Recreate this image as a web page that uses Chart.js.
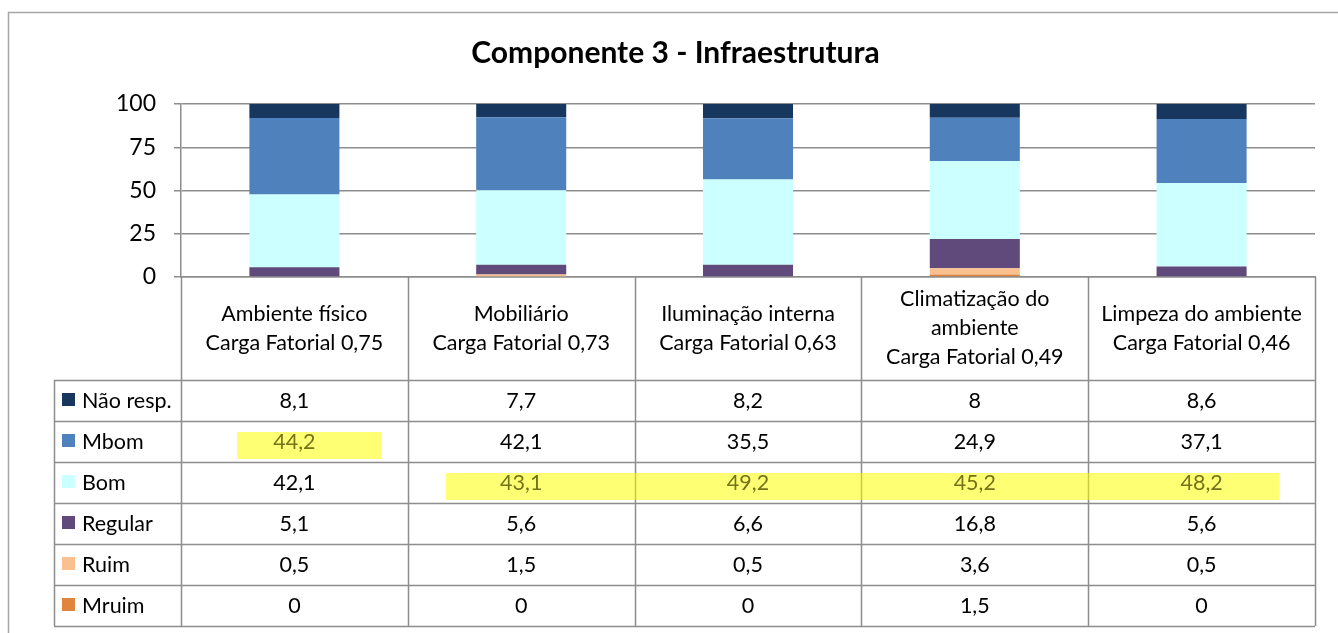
<!DOCTYPE html>
<html>
<head>
<meta charset="utf-8">
<title>Componente 3 - Infraestrutura</title>
<script src="https://cdn.jsdelivr.net/npm/chart.js@4.4.1/dist/chart.umd.min.js"></script>
<style>
  body { margin: 0; background: #fff; }
  #wrap { width: 1338px; height: 633px; }
</style>
</head>
<body>
<div id="wrap"><canvas id="chart" width="1338" height="633"></canvas></div>
<script>
// dados
const categories = [
    ['Ambiente físico', 'Carga Fatorial 0,75'],
    ['Mobiliário', 'Carga Fatorial 0,73'],
    ['Iluminação interna', 'Carga Fatorial 0,63'],
    ['Climatização do', 'ambiente', 'Carga Fatorial 0,49'],
    ['Limpeza do ambiente', 'Carga Fatorial 0,46']
];
const mruim   = [0, 0, 0, 1.5, 0];
const ruim    = [0.5, 1.5, 0.5, 3.6, 0.5];
const regular = [5.1, 5.6, 6.6, 16.8, 5.6];
const bom     = [42.1, 43.1, 49.2, 45.2, 48.2];
const mbom    = [44.2, 42.1, 35.5, 24.9, 37.1];
const naoResp = [8.1, 7.7, 8.2, 8, 8.6];
const yTicks  = [0, 25, 50, 75, 100];

const FONT = 'Lato, "Open Sans", sans-serif';
const LINE = '#8d8d8d';

// celulas marcadas em amarelo na tabela
const highlights = [
    { row: 'Mbom', first: 0, last: 0, left: 56, right: 200 },
    { row: 'Bom', first: 1, last: 4, left: 38, right: 191 }
];

function fmt(v) {
    return String(v).replace('.', ',');
}

// tabela de dados abaixo do grafico (como no Excel)
const dataTable = {
    id: 'dataTable',
    beforeDraw(chart) {
        const ctx = chart.ctx;
        ctx.save();
        ctx.strokeStyle = '#a6a6a6';
        ctx.lineWidth = 1.5;
        ctx.strokeRect(8.5, 12.5, 1400, 700);
        ctx.restore();
    },
    afterDraw(chart) {
        const ctx = chart.ctx;
        const x = chart.scales.x;
        const area = chart.chartArea;
        const n = categories.length;
        const colW = (area.right - area.left) / n;
        const headerBottom = 380;
        const rowH = 41;
        const legendLeft = 54;
        const rows = chart.data.datasets.slice().reverse();
        const tableBottom = headerBottom + rows.length * rowH;
        const colLeft = i => x.getPixelForValue(i) - colW / 2;

        ctx.save();

        // linhas
        ctx.strokeStyle = LINE;
        ctx.lineWidth = 1.5;
        ctx.beginPath();
        for (let i = 0; i <= n; i++) {
            const cx = Math.round(area.left + i * colW) + 0.5;
            ctx.moveTo(cx, area.bottom);
            ctx.lineTo(cx, tableBottom);
        }
        ctx.moveTo(legendLeft + 0.5, headerBottom);
        ctx.lineTo(legendLeft + 0.5, tableBottom);
        for (let r = 0; r <= rows.length; r++) {
            const ry = headerBottom + r * rowH + 0.5;
            ctx.moveTo(legendLeft, ry);
            ctx.lineTo(area.right, ry);
        }
        ctx.stroke();

        // destaques
        ctx.fillStyle = 'rgba(255, 255, 0, 0.55)';
        highlights.forEach(h => {
            const r = rows.findIndex(d => d.label === h.row);
            const top = headerBottom + r * rowH + 11;
            const x0 = colLeft(h.first) + h.left;
            const x1 = colLeft(h.last) + h.right;
            ctx.fillRect(x0, top, x1 - x0, 27);
        });

        // cabecalho das categorias
        ctx.fillStyle = '#000';
        ctx.textAlign = 'center';
        ctx.textBaseline = 'middle';
        ctx.font = '21.5px ' + FONT;
        const midHeader = (area.bottom + headerBottom) / 2;
        categories.forEach((lines, i) => {
            const cx = x.getPixelForValue(i);
            const lh = 29;
            const y0 = midHeader - (lines.length - 1) * lh / 2;
            lines.forEach((t, k) => ctx.fillText(t, cx, y0 + k * lh));
        });

        // linhas de valores + legenda
        rows.forEach((ds, r) => {
            const top = headerBottom + r * rowH;
            const cy = top + rowH / 2 + 1;
            ctx.fillStyle = ds.backgroundColor;
            ctx.fillRect(62, top + 13, 13, 13);
            ctx.fillStyle = '#000';
            ctx.textAlign = 'left';
            ctx.fillText(ds.label, 82, cy);
            ctx.textAlign = 'center';
            ds.data.forEach((v, i) => {
                const marked = highlights.some(h => h.row === ds.label && i >= h.first && i <= h.last);
                ctx.fillStyle = marked ? '#74741a' : '#000';
                ctx.fillText(fmt(v), x.getPixelForValue(i), cy);
            });
        });

        ctx.restore();
    }
};

const ctx = document.getElementById('chart').getContext('2d');
const chart = new Chart(ctx, {
    type: 'bar',
    data: {
        labels: categories,
        datasets: [
            { label: 'Mruim', data: mruim, backgroundColor: '#df853e' },
            { label: 'Ruim', data: ruim, backgroundColor: '#fac090' },
            { label: 'Regular', data: regular, backgroundColor: '#604a7b' },
            { label: 'Bom', data: bom, backgroundColor: '#ccffff' },
            { label: 'Mbom', data: mbom, backgroundColor: '#4f81bd' },
            { label: 'Não resp.', data: naoResp, backgroundColor: '#17375e' }
        ]
    },
    options: {
        responsive: false,
        animation: false,
        datasets: {
            bar: { categoryPercentage: 1, barPercentage: 0.397, borderWidth: 0 }
        },
        layout: { padding: { top: 12, left: 36, right: 23, bottom: 356 } },
        plugins: {
            legend: { display: false },
            tooltip: { enabled: false },
            title: {
                display: true,
                text: 'Componente 3 - Infraestrutura',
                color: '#000',
                font: { family: FONT, size: 30, weight: 'bold' },
                padding: { top: 23, bottom: 33 }
            }
        },
        scales: {
            x: {
                stacked: true,
                grid: { display: false },
                ticks: { display: false },
                border: { color: LINE, width: 1.5 },
                afterFit: s => { s.height = 0; }
            },
            y: {
                stacked: true,
                min: 0,
                max: 100,
                afterBuildTicks: s => { s.ticks = yTicks.map(v => ({ value: v })); },
                grid: { color: LINE, lineWidth: 1.5, tickLength: 7 },
                border: { color: LINE, width: 1.5 },
                ticks: {
                    color: '#000',
                    padding: 18,
                    font: { family: FONT, size: 23 }
                },
                afterFit: s => { s.width = 145; }
            }
        }
    },
    plugins: [dataTable]
});
</script>
</body>
</html>
